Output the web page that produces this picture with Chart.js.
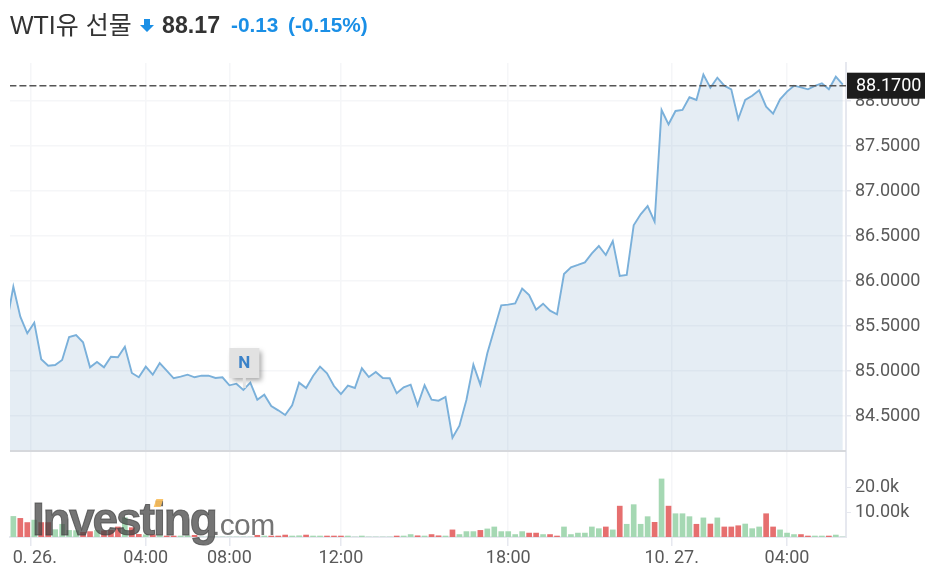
<!DOCTYPE html>
<html><head><meta charset="utf-8">
<script src="https://cdn.jsdelivr.net/npm/chart.js@4"></script>
<style>
html,body{margin:0;padding:0;background:#fff;}
#wrap{position:relative;width:936px;height:577px;overflow:hidden;font-family:"Liberation Sans",Arial,"Noto Sans CJK KR",sans-serif;}
canvas{position:absolute;left:0;top:0;}
.h{position:absolute;white-space:nowrap;line-height:1;}
#mark{position:absolute;left:32px;top:492px;white-space:nowrap;color:rgba(70,70,70,.75);filter:blur(.6px);pointer-events:none;}
#mark b{font:bold 46px "Liberation Sans",Arial,sans-serif;letter-spacing:-2px;-webkit-text-stroke:1px rgba(70,70,70,.75);}
#mark span{font:30px "Liberation Sans",Arial,sans-serif;letter-spacing:-.6px;margin-left:-4px;}
#tick{position:absolute;left:155px;top:499px;width:7px;height:8px;background:rgba(250,190,90,.9);transform:skewX(-18deg);}
</style></head><body>
<div id="wrap">
<canvas id="c" width="936" height="577"></canvas>
<div class="h" style="left:10px;top:13px;font-size:25px;color:#333;">WTI유 선물</div>
<svg class="h" style="left:139px;top:18px" width="16" height="15" viewBox="0 0 16 15"><path d="M5 1h6v6h4l-7 7-7-7h4z" fill="#1a8fe6"/></svg>
<div class="h" style="left:162px;top:14px;font-size:23.2px;font-weight:bold;color:#333;">88.17</div>
<div class="h" style="left:231px;top:15px;font-size:20.8px;font-weight:bold;color:#1a8fe6;">-0.13</div>
<div class="h" style="left:288px;top:15px;font-size:20.8px;font-weight:bold;color:#1a8fe6;">(-0.15%)</div>
<div id="mark"><b>Investing</b><span>.com</span></div><div id="tick"></div>
</div>
<script>
const prices = [
85.511,85.937,85.604,85.419,85.537,85.130,85.059,85.067,85.122,85.378,
85.400,85.319,85.041,85.100,85.041,85.159,85.152,85.270,84.978,84.930,
85.048,84.959,85.089,85.004,84.919,84.937,84.959,84.930,84.948,84.948,
84.922,84.930,84.841,84.859,84.789,84.870,84.681,84.737,84.611,84.563,
84.511,84.619,84.870,84.811,84.944,85.048,84.974,84.833,84.744,84.837,
84.811,85.030,84.933,84.989,84.922,84.919,84.752,84.819,84.848,84.619,
84.841,84.681,84.670,84.711,84.259,84.393,84.678,85.070,84.848,85.196,
85.463,85.730,85.737,85.752,85.915,85.844,85.681,85.748,85.670,85.630,
86.078,86.152,86.178,86.207,86.307,86.389,86.289,86.444,86.056,86.067,
86.619,86.741,86.833,86.659,87.900,87.741,87.889,87.900,88.041,88.011,
88.293,88.148,88.259,88.170,88.130,87.800,88.011,88.059,88.119,87.937,
87.859,88.019,88.104,88.170,88.152,88.130,88.167,88.196,88.130,88.270,
88.181];
const volumes = [
7.0,8.4,7.6,5.9,6.9,5.9,5.9,3.0,5.2,2.7,
2.6,1.9,2.2,2.7,2.5,2.7,4.1,7.9,3.8,1.1,
0.9,0.9,0.6,0.4,0.4,0.4,0.5,0.7,0,0,
0,0,0,0,0,0,0.7,0.4,0.4,0.4,
0.8,0.4,0.5,0.8,0.4,0.4,0.4,0.4,0.4,0.4,
0,0.4,0,0,0,0,0.4,0.4,1.0,0.5,
0.4,1.0,0.5,0.4,2.9,1.0,2.2,2.2,2.7,3.3,
4.1,2.2,2.2,1.0,2.2,1.6,1.6,1.0,1.0,0.4,
4.1,1.0,1.6,1.6,4.1,3.4,4.1,2.9,12.6,5.2,
13.2,5.2,8.3,6.0,23.7,12.6,9.5,9.5,8.3,5.2,
7.8,5.3,7.8,4.1,4.1,4.6,5.3,3.4,4.1,9.5,
4.1,2.9,1.6,1.0,1.0,0.4,0.4,0.4,0.4,0.8,
0];
const volumeSides = (
"g g r r g r r g g g "+
"g r r g r r r g r r "+
"g r g r r g g r g g "+
"g g g g g g r g r r "+
"r g g r g g r r r g "+
"g g g g g g r g g r "+
"g r r g r g g g r g "+
"g g g g g r r g r r "+
"g g g g g g r g r g "+
"g g g r g r g g g r "+
"g r g r r r g g g r "+
"r g g g r r g g r g g").split(" ");
const lastPrice = 88.17;
const lastPriceLabel = "88.1700";
const tickIndex = [3.44,20,32,48,72,95.45,112];
const tickLabels = ["\u00a0\u00a00. 26.","04:00","08:00","12:00","18:00","10. 27.","04:00"];
const priceTicks = [84.5,85,85.5,86,86.5,87,87.5,88];
const volumeTicks = [10,20];
const volumeTickLabels = {10:"10.00k",20:"20.0k"};
const newsIndex = 34;
const newsLabel = "N";

const F = '"Roboto",sans-serif', TICK = '#5a5a5a', GRID = '#f5f6f8', AXIS = '#e6e8ef', FS = 18;
const panel = {
  id:'panel',
  afterDraw(ch){
    const c = ch.ctx, y = ch.scales.y, x = ch.scales.x;
    c.save();
    c.strokeStyle='#d6d8dc'; c.lineWidth=2;
    c.beginPath(); c.moveTo(x.left,y.bottom); c.lineTo(x.right,y.bottom); c.stroke();
    const nx = x.getPixelForValue(newsIndex)+1, ny = y.getPixelForValue(prices[newsIndex]);
    c.save();
    c.shadowColor='rgba(0,0,0,.35)'; c.shadowBlur=5; c.shadowOffsetX=3; c.shadowOffsetY=3;
    c.fillStyle='#e2e2e2';
    c.fillRect(nx-15,ny-42,30,30);
    c.restore();
    c.fillStyle='#e2e2e2'; c.fillRect(nx-1.5,ny-12,3,10);
    c.fillStyle='#3b82c8'; c.font='bold 17px '+F; c.textAlign='center'; c.textBaseline='middle';
    c.fillText(newsLabel,nx,ny-26);
    const ly = y.getPixelForValue(lastPrice);
    c.fillStyle='#1c1c1c'; c.fillRect(x.right+1,ly-13,78,26);
    c.fillStyle='#fff'; c.font=FS+'px '+F; c.textAlign='left';
    c.fillText(lastPriceLabel,x.right+10,ly+1);
    c.restore();
  }
};
new Chart(document.getElementById('c'),{
  type:'bar',
  data:{datasets:[
    {type:'line',order:2,xAxisID:'x',yAxisID:'y',
     data:prices.map((v,i)=>({x:i,y:v})),
     borderColor:'#7ab0da',borderWidth:1.9,pointRadius:0,tension:0,
     fill:'start',backgroundColor:'rgba(100,150,190,.17)'},
    {type:'line',order:1,xAxisID:'x',yAxisID:'y',
     data:[{x:-1,y:lastPrice},{x:122,y:lastPrice}],
     borderColor:'#555',borderWidth:1.5,borderDash:[7,3],pointRadius:0,fill:false},
    {type:'bar',order:3,xAxisID:'x',yAxisID:'v',
     data:volumes.map((v,i)=>({x:i,y:v})),
     backgroundColor:volumeSides.map(s=>s==='g'?'#a5d8b3':'#e66f6f'),
     barThickness:5,borderWidth:0}
  ]},
  options:{
    responsive:false,animation:false,devicePixelRatio:1,
    layout:{padding:{left:10,top:63,right:0,bottom:0}},
    plugins:{legend:{display:false},tooltip:{enabled:false},title:{display:false}},
    scales:{
      x:{type:'linear',min:0.52,max:120.46,position:'bottom',offset:false,
        afterBuildTicks(s){s.ticks=tickIndex.map(v=>({value:v}));},
        afterFit(s){s.height=40;},
        grid:{offset:false,color:GRID,tickColor:AXIS,tickLength:9,lineWidth:1.5},
        border:{color:AXIS,width:2},
        ticks:{autoSkip:false,maxRotation:0,padding:2,color:TICK,font:{family:F,size:FS},
          callback(v){const i=tickIndex.indexOf(v);return i<0?'':tickLabels[i];}}},
      y:{type:'linear',position:'right',stack:'panes',stackWeight:388,min:84.1111,max:88.4222,
        afterBuildTicks(s){s.ticks=priceTicks.map(v=>({value:v}));},
        afterFit(s){s.width=90;},
        grid:{color:GRID,tickColor:AXIS,tickLength:5,lineWidth:1.5},
        border:{color:AXIS,width:2},
        ticks:{padding:4,labelOffset:1,color:TICK,font:{family:F,size:FS},callback:v=>v.toFixed(4)}},
      v:{type:'linear',position:'right',stack:'panes',stackWeight:86,min:0,max:35.1,
        afterBuildTicks(s){s.ticks=volumeTicks.map(v=>({value:v}));},
        afterFit(s){s.width=90;},
        grid:{drawOnChartArea:false,tickColor:AXIS,tickLength:5},
        border:{color:AXIS,width:2},
        ticks:{padding:4,color:TICK,font:{family:F,size:FS},callback:v=>volumeTickLabels[v]||''}}
    }
  },
  plugins:[panel]
});
</script>
</body></html>
